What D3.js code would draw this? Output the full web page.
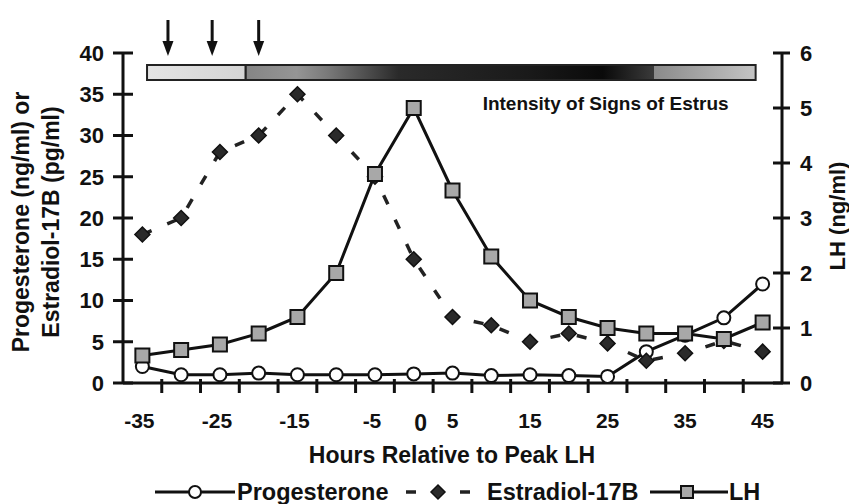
<!DOCTYPE html>
<html><head><meta charset="utf-8">
<script src="https://cdn.jsdelivr.net/npm/d3@7"></script>
<style>
html,body{margin:0;padding:0;background:#fff;}
svg text{font-family:"Liberation Sans",Arial,sans-serif;font-weight:bold;fill:#111;}
</style></head>
<body><svg id="c" width="849" height="504"></svg>
<script>
const hours = [-35,-30,-25,-20,-15,-10,-5,0,5,10,15,20,25,30,35,40,45];
const progesterone = [2.0,1.0,1.0,1.2,1.0,1.0,1.0,1.1,1.2,0.9,1.0,0.9,0.8,3.8,5.8,7.9,12.0];
const estradiol = [18,20,28,30,35,30,25,15,8,7,5,6,4.8,2.7,3.6,5.1,3.8];
const lh = [0.5,0.6,0.7,0.9,1.2,2.0,3.8,5.0,3.5,2.3,1.5,1.2,1.0,0.9,0.9,0.8,1.1];
const xTickLabels = [-35,-25,-15,-5,5,15,25,35,45];
const leftTicks = [0,5,10,15,20,25,30,35,40];
const rightTicks = [0,1,2,3,4,5,6];
const arrowHours = [-31.7,-26,-20];
const estrusBar = {start:-34.4, lightEnd:-21.7, end:44.1};

const svg = d3.select("#c");
const L=123, R=782, T=53, B=383;
const x = d3.scaleBand().domain(hours).range([L,R]).paddingInner(0).paddingOuter(0);
const bw = x.bandwidth();
const cx = h => x(h)+bw/2;
const xh = d3.scaleLinear().domain([-35,45]).range([cx(-35),cx(45)]);
const yL = d3.scaleLinear().domain([0,40]).range([B,T]);
const yR = d3.scaleLinear().domain([0,6]).range([B,T]);

// estrus intensity bar
const defs = svg.append("defs");
const g = defs.append("linearGradient").attr("id","grad").attr("x1","0").attr("x2","1").attr("y1","0").attr("y2","0");
[[0,"#858585"],[0.1,"#959595"],[0.16,"#7a7a7a"],[0.3,"#2a2a2a"],[0.55,"#1a1a1a"],[0.7,"#0a0a0a"],[0.8,"#3a3a3a"],[0.8,"#8a8a8a"],[1,"#c4c4c4"]]
 .forEach(s=>g.append("stop").attr("offset",s[0]).attr("stop-color",s[1]));
const g2 = defs.append("linearGradient").attr("id","grad2").attr("x1","0").attr("x2","1");
[[0,"#e4e4e4"],[1,"#d4d4d4"]].forEach(s=>g2.append("stop").attr("offset",s[0]).attr("stop-color",s[1]));
svg.append("rect").attr("x",xh(estrusBar.lightEnd)).attr("y",65).attr("width",xh(estrusBar.end)-xh(estrusBar.lightEnd)).attr("height",15)
  .attr("fill","url(#grad)").attr("stroke","#222").attr("stroke-width",2);
svg.append("rect").attr("x",xh(estrusBar.start)).attr("y",65).attr("width",xh(estrusBar.lightEnd)-xh(estrusBar.start)).attr("height",15)
  .attr("fill","url(#grad2)").attr("stroke","#222").attr("stroke-width",2);
svg.append("text").attr("x",xh(estrusBar.end)-27).attr("y",110).attr("text-anchor","end").style("font-size","19px").text("Intensity of Signs of Estrus");

// arrows
arrowHours.forEach(h=>{
  const ax = xh(h);
  svg.append("line").attr("x1",ax).attr("x2",ax).attr("y1",20).attr("y2",45).attr("stroke","#111").attr("stroke-width",3);
  svg.append("path").attr("d",`M${ax-5.5},${41} L${ax+5.5},${41} L${ax},${56} Z`).attr("fill","#111");
});

// axes
const ax = svg.append("g").attr("stroke","#111").attr("stroke-width",3);
ax.append("line").attr("x1",L).attr("x2",L).attr("y1",T).attr("y2",B);
ax.append("line").attr("x1",R).attr("x2",R).attr("y1",T).attr("y2",B);
ax.append("line").attr("x1",L).attr("x2",R+1).attr("y1",B).attr("y2",B);
leftTicks.forEach(v=>ax.append("line").attr("x1",L-10).attr("x2",L+10).attr("y1",yL(v)).attr("y2",yL(v)));
rightTicks.forEach(v=>ax.append("line").attr("x1",R-9).attr("x2",R+8).attr("y1",yR(v)).attr("y2",yR(v)));
hours.slice(1).forEach(h=>ax.append("line").attr("x1",x(h)).attr("x2",x(h)).attr("y1",B-4).attr("y2",B+10));

leftTicks.forEach(v=>svg.append("text").attr("x",104).attr("y",yL(v)).attr("dy","0.36em").attr("text-anchor","end").style("font-size","22px").text(v));
rightTicks.forEach(v=>svg.append("text").attr("x",800).attr("y",yR(v)).attr("dy","0.36em").style("font-size","22px").text(v));
xTickLabels.forEach(v=>svg.append("text").attr("x",cx(v)-(v<0?3:0)).attr("y",428).attr("text-anchor","middle").style("font-size","21px").text(v));
svg.append("text").attr("x",cx(0)+7).attr("y",431).attr("text-anchor","middle").style("font-size","23px").text("0");

svg.append("text").attr("x",452).attr("y",463).attr("text-anchor","middle").style("font-size","23px").text("Hours Relative to Peak LH");
svg.append("text").attr("transform","translate(21,222) rotate(-90)").attr("text-anchor","middle").attr("dy","0.36em").style("font-size","23px").text("Progesterone (ng/ml) or");
svg.append("text").attr("transform","translate(51,222) rotate(-90)").attr("text-anchor","middle").attr("dy","0.36em").style("font-size","23px").text("Estradiol-17B (pg/ml)");
svg.append("text").attr("transform","translate(837,216) rotate(-90)").attr("text-anchor","middle").attr("dy","0.36em").style("font-size","22px").text("LH (ng/ml)");

// series
const lineP = d3.line().x((d,i)=>cx(hours[i])).y(d=>yL(d));
const lineR = d3.line().x((d,i)=>cx(hours[i])).y(d=>yR(d));
svg.append("path").datum(progesterone).attr("d",lineP).attr("fill","none").attr("stroke","#111").attr("stroke-width",3);
svg.append("path").datum(estradiol).attr("d",lineP).attr("fill","none").attr("stroke","#222").attr("stroke-width",3.5).attr("stroke-dasharray","10,17");
svg.append("path").datum(lh).attr("d",lineR).attr("fill","none").attr("stroke","#111").attr("stroke-width",3);

svg.selectAll(".pc").data(progesterone).enter().append("circle").attr("cx",(d,i)=>cx(hours[i])).attr("cy",d=>yL(d)).attr("r",6.5)
  .attr("fill","#fff").attr("stroke","#111").attr("stroke-width",2);
svg.selectAll(".ed").data(estradiol).enter().append("path")
  .attr("d",(d,i)=>{const px=cx(hours[i]),py=yL(d);return `M${px},${py-7.5}L${px+7.5},${py}L${px},${py+7.5}L${px-7.5},${py}Z`;})
  .attr("fill","#2a2a2a").attr("stroke","#111").attr("stroke-width",1.5);
svg.selectAll(".ls").data(lh).enter().append("rect").attr("x",(d,i)=>cx(hours[i])-7).attr("y",d=>yR(d)-7).attr("width",14).attr("height",14)
  .attr("fill","#a8a8a8").attr("stroke","#111").attr("stroke-width",2);

// legend
const ly = 492;
const lg = svg.append("g");
lg.append("line").attr("x1",155).attr("x2",235).attr("y1",ly).attr("y2",ly).attr("stroke","#111").attr("stroke-width",3);
lg.append("circle").attr("cx",195).attr("cy",ly).attr("r",6).attr("fill","#fff").attr("stroke","#111").attr("stroke-width",2);
lg.append("text").attr("x",237).attr("y",ly).attr("dy","0.36em").style("font-size","23.5px").text("Progesterone");
lg.append("line").attr("x1",406).attr("x2",416).attr("y1",ly).attr("y2",ly).attr("stroke","#222").attr("stroke-width",3.5);
lg.append("line").attr("x1",460).attr("x2",470).attr("y1",ly).attr("y2",ly).attr("stroke","#222").attr("stroke-width",3.5);
lg.append("path").attr("d",`M438,${ly-7}L445,${ly}L438,${ly+7}L431,${ly}Z`).attr("fill","#2a2a2a").attr("stroke","#111").attr("stroke-width",1.5);
lg.append("text").attr("x",487).attr("y",ly).attr("dy","0.36em").style("font-size","23.5px").text("Estradiol-17B");
lg.append("line").attr("x1",650).attr("x2",728).attr("y1",ly).attr("y2",ly).attr("stroke","#111").attr("stroke-width",3);
lg.append("rect").attr("x",681).attr("y",ly-6).attr("width",12).attr("height",12).attr("fill","#a8a8a8").attr("stroke","#111").attr("stroke-width",2);
lg.append("text").attr("x",729).attr("y",ly).attr("dy","0.36em").style("font-size","23.5px").text("LH");
</script></body></html>
